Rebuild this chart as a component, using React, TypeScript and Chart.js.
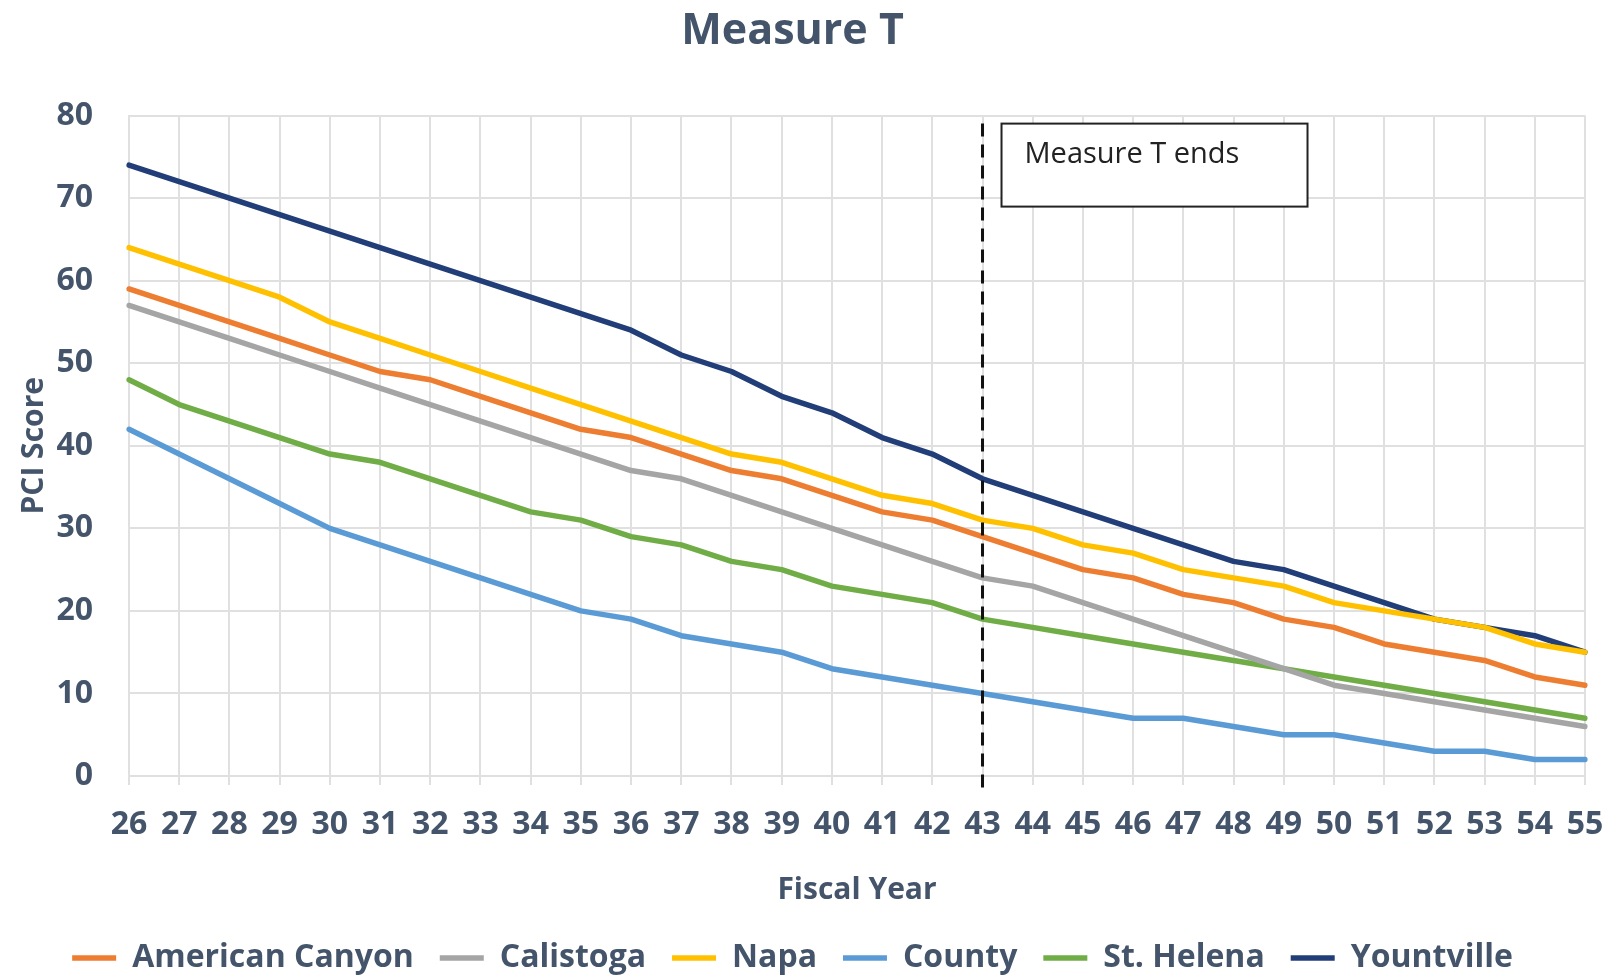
import React, { useEffect, useRef } from "react";
import { Chart, registerables } from "chart.js";

Chart.register(...registerables);

const chartTitle = "Measure T";
const xAxisTitle = "Fiscal Year";
const yAxisTitle = "PCI Score";
const markerYear = "43";
const annotationText = "Measure T ends";

const years = [
  "26", "27", "28", "29", "30", "31", "32", "33", "34", "35",
  "36", "37", "38", "39", "40", "41", "42", "43", "44", "45",
  "46", "47", "48", "49", "50", "51", "52", "53", "54", "55",
];

const americanCanyon = [59, 57, 55, 53, 51, 49, 48, 46, 44, 42, 41, 39, 37, 36, 34, 32, 31, 29, 27, 25, 24, 22, 21, 19, 18, 16, 15, 14, 12, 11];
const calistoga = [57, 55, 53, 51, 49, 47, 45, 43, 41, 39, 37, 36, 34, 32, 30, 28, 26, 24, 23, 21, 19, 17, 15, 13, 11, 10, 9, 8, 7, 6];
const napa = [64, 62, 60, 58, 55, 53, 51, 49, 47, 45, 43, 41, 39, 38, 36, 34, 33, 31, 30, 28, 27, 25, 24, 23, 21, 20, 19, 18, 16, 15];
const county = [42, 39, 36, 33, 30, 28, 26, 24, 22, 20, 19, 17, 16, 15, 13, 12, 11, 10, 9, 8, 7, 7, 6, 5, 5, 4, 3, 3, 2, 2];
const stHelena = [48, 45, 43, 41, 39, 38, 36, 34, 32, 31, 29, 28, 26, 25, 23, 22, 21, 19, 18, 17, 16, 15, 14, 13, 12, 11, 10, 9, 8, 7];
const yountville = [74, 72, 70, 68, 66, 64, 62, 60, 58, 56, 54, 51, 49, 46, 44, 41, 39, 36, 34, 32, 30, 28, 26, 25, 23, 21, 19, 18, 17, 15];

const seriesNames = ["American Canyon", "Calistoga", "Napa", "County", "St. Helena", "Yountville"];
const seriesValues = [americanCanyon, calistoga, napa, county, stHelena, yountville];
const seriesColors = ["#ED7D31", "#A5A5A5", "#FFC000", "#5B9BD5", "#70AD47", "#223E78"];

const TEXT = "#44546A";
const GRID = "#e0e0e0";
const FONT = '"Open Sans", "DejaVu Sans", sans-serif';

const measureEndPlugin = {
  id: "measureEnd",
  afterDatasetsDraw(chart: any) {
    const { ctx, chartArea, scales } = chart;
    const x = scales.x.getPixelForValue(years.indexOf(markerYear));
    ctx.save();
    ctx.strokeStyle = "#111111";
    ctx.lineWidth = 3;
    ctx.setLineDash([13, 8]);
    ctx.beginPath();
    ctx.moveTo(x, chartArea.top + 8);
    ctx.lineTo(x, chartArea.bottom + 16);
    ctx.stroke();
    ctx.setLineDash([]);
    const bx = x + 19;
    const by = chartArea.top + 8;
    const bw = 306;
    const bh = 83;
    ctx.fillStyle = "#ffffff";
    ctx.fillRect(bx, by, bw, bh);
    ctx.lineWidth = 2;
    ctx.strokeStyle = "#222222";
    ctx.strokeRect(bx, by, bw, bh);
    ctx.fillStyle = "#222222";
    ctx.font = `29px ${FONT}`;
    ctx.textBaseline = "middle";
    ctx.textAlign = "left";
    ctx.fillText(annotationText, bx + 23, by + 31);
    ctx.restore();
  },
};

export default function App() {
  const canvasRef = useRef<HTMLCanvasElement | null>(null);

  useEffect(() => {
    document.body.style.margin = "0";
    document.body.style.overflow = "hidden";
    const canvas = canvasRef.current;
    if (!canvas) return;

    const chart = new Chart(canvas, {
      type: "line",
      data: {
        labels: years,
        datasets: seriesNames.map((name, i) => ({
          label: name,
          data: seriesValues[i],
          borderColor: seriesColors[i],
          backgroundColor: seriesColors[i],
          borderWidth: 5.5,
          pointRadius: 0,
          pointHoverRadius: 0,
          tension: 0,
          borderJoinStyle: "round" as const,
          borderCapStyle: "round" as const,
        })),
      },
      options: {
        responsive: false,
        animation: false,
        devicePixelRatio: 1,
        layout: { padding: { left: 0, right: 33, top: 0, bottom: -9 } },
        plugins: {
          tooltip: { enabled: false },
          title: {
            display: true,
            text: chartTitle,
            color: TEXT,
            font: { family: FONT, size: 43, weight: "bold" },
            padding: { top: 6, bottom: 58 },
          },
          legend: {
            display: true,
            position: "bottom",
            labels: {
              color: TEXT,
              font: { family: FONT, size: 32, weight: "bold" },
              usePointStyle: true,
              pointStyle: "line",
              pointStyleWidth: 44,
              boxHeight: 32,
              padding: 26,
            },
          },
        },
        scales: {
          x: {
            offset: false,
            grid: {
              color: GRID,
              lineWidth: 2,
              offset: false,
              drawTicks: true,
              tickLength: 9,
            },
            border: { color: GRID, width: 2 },
            ticks: {
              color: TEXT,
              font: { family: FONT, size: 32, weight: "bold" },
              autoSkip: false,
              maxRotation: 0,
              minRotation: 0,
              padding: 21,
            },
            title: {
              display: true,
              text: xAxisTitle,
              color: TEXT,
              font: { family: FONT, size: 30, weight: "bold" },
              padding: { top: 0, bottom: 8 },
            },
            afterFit(scale: any) {
              scale.height = 140;
              scale.paddingRight = 0;
            },
          },
          y: {
            min: 0,
            max: 80,
            grid: { color: GRID, lineWidth: 2, drawTicks: false },
            border: { color: GRID, width: 2 },
            ticks: {
              stepSize: 10,
              color: TEXT,
              font: { family: FONT, size: 32, weight: "bold" },
              padding: 36,
            },
            title: {
              display: true,
              text: yAxisTitle,
              color: TEXT,
              font: { family: FONT, size: 30, weight: "bold" },
              padding: { top: 16, bottom: 0 },
            },
            afterFit(scale: any) {
              scale.width = 129;
            },
          },
        },
      },
      plugins: [measureEndPlugin],
    });

    return () => chart.destroy();
  }, []);

  return (
    <div style={{ width: 1618, height: 975, background: "#ffffff" }}>
      <canvas ref={canvasRef} width={1618} height={975} style={{ display: "block" }} />
    </div>
  );
}
